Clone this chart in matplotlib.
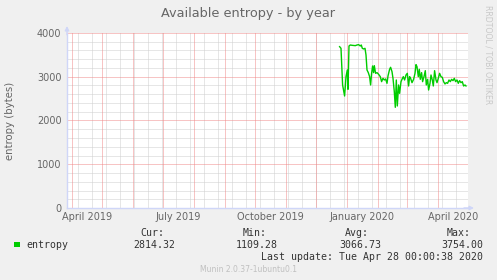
import numpy as np
import matplotlib
matplotlib.use("Agg")
import matplotlib.pyplot as plt
import matplotlib.dates as mdates
from matplotlib.patches import Rectangle

# ---------------- data ----------------
title = "Available entropy - by year"
y_label = "entropy (bytes)"
series_name = "entropy"
origin_date = "2019-04-01"
day_offsets = [267.3, 268.7, 270.3, 272.3, 273.7, 275.0, 275.7, 276.7, 278.0, 279.7,
               283.0, 284.7, 286.3, 288.0, 289.0, 290.0, 291.3, 292.7, 293.7, 294.7,
               296.0, 297.3, 298.3, 299.3, 300.3, 301.3, 302.0, 303.3, 304.7, 306.3,
               308.0, 309.3, 310.7, 312.0, 313.3, 314.7, 315.7, 317.3, 318.3, 319.7,
               320.7, 322.0, 323.0, 324.0, 325.0, 326.3, 327.3, 328.7, 329.7, 331.0,
               332.3, 333.7, 335.0, 336.3, 337.3, 338.3, 339.7, 341.3, 342.7, 343.7,
               344.7, 346.0, 347.0, 348.0, 349.3, 350.3, 351.7, 353.0, 354.0, 355.3,
               356.3, 357.7, 358.7, 360.0, 361.0, 362.3, 363.7, 364.7, 366.0, 367.3,
               368.7, 370.0, 371.3, 372.7, 374.0, 375.3, 376.7, 378.0, 379.3, 380.7,
               382.0, 383.3, 384.7, 386.0, 387.3, 388.7, 390.0, 391.3, 392.7, 393.7]
entropy_values = [3688, 3650, 2812, 2560, 3002, 3155, 2713, 3703, 3726, 3719,
                  3711, 3726, 3734, 3703, 3726, 3650, 3635, 3650, 3498, 3155,
                  3094, 3002, 2812, 3078, 3246, 3094, 3254, 3078, 3094, 3056,
                  3002, 2888, 2964, 2926, 2949, 2850, 3018, 3170, 3216, 3117,
                  2964, 2659, 2301, 2926, 2332, 2812, 2621, 2888, 2941, 3002,
                  2926, 3040, 3078, 2789, 3002, 2964, 2865, 2941, 3078, 3277,
                  3231, 3002, 3170, 2941, 3094, 2888, 3002, 3139, 2812, 2941,
                  2697, 2850, 3040, 2926, 2789, 3139, 2926, 2865, 2964, 3078,
                  3002, 2987, 2888, 2835, 2865, 2850, 2926, 2888, 2941, 2911,
                  2964, 2888, 2926, 2850, 2911, 2865, 2888, 2789, 2812, 2789]
x_range_days = [-5.3, 395.7]
y_ticks = [0, 1000, 2000, 3000, 4000]
x_label_texts = ["April 2019", "July 2019", "October 2019", "January 2020", "April 2020"]
x_label_dates = ["2019-04-16", "2019-07-16", "2019-10-16", "2020-01-16", "2020-04-16"]
stat_names = ["Cur:", "Min:", "Avg:", "Max:"]
stat_values = ["2814.32", "1109.28", "3066.73", "3754.00"]
last_update = "Last update: Tue Apr 28 00:00:38 2020"
footer = "Munin 2.0.37-1ubuntu0.1"
watermark = "RRDTOOL / TOBI OETIKER"

# ---------------- style ----------------
W, H = 497, 280
BG = "#F0F0F0"
FONT_C = "#666666"
AXIS_C = "#CFD6F8"
LINE_C = "#00CC00"
MINOR_C = "#CFCFCF"
MAJOR_C = "#F08A8A"

fig = plt.figure(figsize=(W / 100, H / 100), dpi=100, facecolor=BG)
L, R, T, B = 67, 468, 33, 208
ax = fig.add_axes([L / W, 1 - B / H, (R - L) / W, (B - T) / H])
ax.set_facecolor("white")

origin = mdates.date2num(np.datetime64(origin_date))
xs = origin + np.array(day_offsets)
x0, x1 = origin + x_range_days[0], origin + x_range_days[1]

# grid: two-weekly minor (Sundays), monthly major
biweekly = np.arange(np.datetime64("2019-03-24"), np.datetime64("2020-05-03"), np.timedelta64(14, "D"))
months = np.arange(np.datetime64("2019-04"), np.datetime64("2020-06"), np.timedelta64(1, "M")).astype("datetime64[D]")
dot = (0, (1, 1))
gkw = dict(linewidth=0.72, linestyle=dot, snap=True)
for d in mdates.date2num(biweekly):
    ax.axvline(d, color=MINOR_C, zorder=1, **gkw)
for v in np.arange(0, y_ticks[-1] + 1, 200):
    if v % 1000 != 0:
        ax.axhline(v, color=MINOR_C, zorder=1, **gkw)
for d in mdates.date2num(months):
    ax.axvline(d, color=MAJOR_C, zorder=2, **gkw)
for v in y_ticks[1:]:
    ax.axhline(v, color=MAJOR_C, zorder=2, **gkw)

ax.plot(xs, entropy_values, color=LINE_C, linewidth=1.0, zorder=3)

ax.set_xlim(x0, x1)
ax.set_ylim(0, y_ticks[-1])
ax.set_yticks(y_ticks)
ax.set_yticklabels([str(v) for v in y_ticks])
ax.set_xticks(mdates.date2num(np.array(x_label_dates, dtype="datetime64[D]")))
ax.set_xticklabels(x_label_texts)
ax.tick_params(axis="both", length=0, labelsize=7, labelcolor=FONT_C)
ax.tick_params(axis="y", pad=4)
ax.tick_params(axis="x", pad=3)

for s in ("top", "right"):
    ax.spines[s].set_visible(False)
for s in ("left", "bottom"):
    ax.spines[s].set_color(AXIS_C)
    ax.spines[s].set_linewidth(1.0)
    ax.spines[s].set_zorder(4)

# arrows
ax.annotate("", xy=(0, 1 + 7 / (B - T)), xytext=(0, 0.99), xycoords="axes fraction",
            arrowprops=dict(arrowstyle="-|>", color=AXIS_C, lw=1, mutation_scale=6, shrinkA=0, shrinkB=0))
ax.annotate("", xy=(1 + 6 / (R - L), 0), xytext=(0.99, 0), xycoords="axes fraction",
            arrowprops=dict(arrowstyle="-|>", color=AXIS_C, lw=1, mutation_scale=6, shrinkA=0, shrinkB=0))

def fx(x):
    return x / W

def fy(y):
    return 1 - y / H

fig.text(fx(248), fy(13), title, ha="center", va="center", fontsize=9.3, color=FONT_C)
fig.text(fx(10), fy(121), y_label, ha="center", va="center", rotation=90, fontsize=7.3, color=FONT_C)
fig.text(fx(488), fy(55), watermark, ha="center", va="center", rotation=270, fontsize=5.6, color="#C8C8C8")

mono = "DejaVu Sans Mono"
fig.patches.append(Rectangle((fx(14), fy(247)), 6 / W, 5 / H, transform=fig.transFigure,
                             facecolor=LINE_C, edgecolor="none"))
fig.text(fx(26), fy(244.5), series_name, ha="left", va="center", fontsize=7.1, family=mono, color="#333333")
name_right = [164, 267, 369, 471]
val_right = [175, 278, 381, 483]
for n, v, nr, vr in zip(stat_names, stat_values, name_right, val_right):
    fig.text(fx(nr), fy(232.5), n, ha="right", va="center", fontsize=7.1, family=mono, color="#333333")
    fig.text(fx(vr), fy(244.5), v, ha="right", va="center", fontsize=7.1, family=mono, color="#333333")
fig.text(fx(483), fy(256.5), last_update, ha="right", va="center", fontsize=7.1, family=mono, color="#333333")
fig.text(fx(248), fy(269), footer, ha="center", va="center", fontsize=5.5, color="#C0C0C0")

fig.savefig("out.png", dpi=100, facecolor=BG)
